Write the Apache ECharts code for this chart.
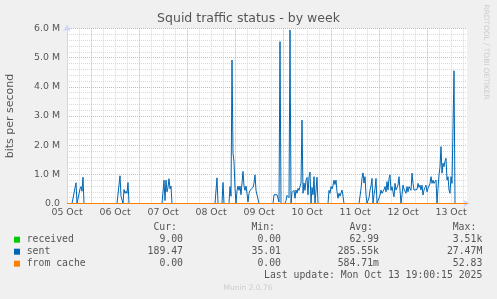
<!DOCTYPE html>
<html>
<head>
<meta charset="utf-8">
<script src="https://cdn.jsdelivr.net/npm/echarts@6/dist/echarts.min.js"></script>
<style>
html,body{margin:0;padding:0;background:#f0f0f0;}
#chart{width:497px;height:299px;}
</style>
</head>
<body>
<div id="chart"></div>
<script>
// ---- data (x in hours since 05 Oct 00:00, y in Mbit/s) ----
const dayLabels = ['05 Oct','06 Oct','07 Oct','08 Oct','09 Oct','10 Oct','11 Oct','12 Oct','13 Oct'];
const yTickLabels = ['0.0','1.0 M','2.0 M','3.0 M','4.0 M','5.0 M','6.0 M'];
const receivedData = [[12,0],[212,0]];
const fromCacheData = [[12,0],[212,0]];
const sentData = [
 [12,0],
 [14.5,0],[16.5,0.71],[17,0],[18.5,0.5],[19,0.58],[19.5,0.42],[20,0.9],[20.5,0],
 [37,0],[38.5,0.95],[39,0.25],[40,0],[40.5,0.48],[41,0.35],[41.5,0.42],[42,0.35],[42.5,0.72],[43,0],
 [59.5,0],[60.5,0.8],[61,0.1],[61.5,0.8],[62,0.4],[62.5,0.55],[63,0.85],[63.5,0.5],[64,0.6],[64.5,0],
 [86,0],[87,0.88],[87.5,0],[89.5,0],[90,0.72],[90.5,0],[93,0],[93.5,0.58],[94,0.25],[94.5,4.92],[95,1.72],[95.5,1.43],[96,0.52],[96.5,0],[97,0.44],[97.5,0.6],[98,0.45],[98.5,0.6],[99,0.3],[99.5,0.28],[100,1.1],[100.5,0.6],[101,0.45],[101.5,0.6],[102,0.35],[102.5,0.05],[103,0.35],[103.5,0.45],[104,0.4],[104.5,0.45],[105,0.55],[105.5,0.7],[106,0.98],[106.5,0.45],[107,0.45],[107.5,0.45],[108,0],
 [115,0],[115.5,0.3],[116,0.3],[116.5,0.3],[117,0.3],[117.5,0.25],[118,0.05],[118.5,5.55],[119,0],[121,0],[121.5,0.1],[122,0.28],[122.5,0.32],[123,0.2],[123.5,5.95],[124,0],[124.5,0.38],[125,0.42],[125.5,0.45],[126,0.18],[126.5,0.46],[127,0.35],[127.5,0.52],[128,0.45],[128.5,0.5],[129,0.7],[129.5,2.86],[130,0.35],[130.5,0.7],[131,0.45],[131.5,0.8],[132,0.89],[132.5,0.3],[133,0.92],[133.5,1.08],[134,0],[134.5,0.55],[135,0.3],[135.5,0.92],[136,0],[136.5,0],[137,0.9],[137.5,0],
 [142.5,0],[143,0.45],[143.5,0.35],[144,0.58],[144.5,0.5],[145,0.62],[145.5,0.8],[146,0.65],[146.5,0.8],[147,0.4],[147.5,0.18],[148,0.35],[148.5,0.25],[149,0.2],[149.5,0.46],[150,0.25],[150.5,0],
 [158,0],[159,0.5],[159.5,0.86],[160,1.05],[160.5,0.7],[161,0.92],[161.5,0.3],[162,0],[163,0.2],[163.5,0.46],[164,0.6],[164.5,0.86],[165,0],[165.5,0.3],[166,0.5],[166.5,0.86],[167,0],
 [168,0],[168.5,0.29],[169,0.46],[169.5,0.35],[170,0.3],[170.5,0.48],[171,0.58],[171.5,0.4],[172,0.75],[172.5,0.46],[173,0.86],[173.5,0.98],[174,0.45],[174.5,0.58],[175,0.4],[175.5,0.23],[176,0.69],[176.5,0.46],[177,0.5],[177.5,0.63],[178,0.92],[178.5,0.46],[179,0],
 [179.5,0.3],[180,0.63],[180.5,0.5],[181,0.46],[181.5,0.35],[182,0.58],[182.5,0.4],[183,0.58],[183.5,0.52],[184,0.45],[184.5,1.04],[185,0.69],[185.5,0.46],[186,0.5],[186.5,0.4],[187,0.48],[187.5,0.69],[188,0.55],[188.5,0.63],[189,0.46],[189.5,0.63],[190,0.29],[190.5,0.46],[191,0.55],[191.5,0.63],[192,0.4],[192.5,0.52],[193,0.6],[193.5,0.69],[194,0.92],[194.5,0.69],[195,0.8],[195.5,0.69],[196,0.75],[196.5,0.8],[197,0],
 [197.5,0.52],[198,0.98],[198.5,1.26],[199,1.95],[199.5,1.04],[200,1.38],[200.5,1.26],[201,1.45],[201.5,1.55],[202,0.8],[202.5,0.92],[203,0.46],[203.5,0.35],[204,0.92],[204.5,0.69],[205.5,4.55],[206,0],[211,0]
];
// legend / stats
const seriesNames = ['received','sent','from cache'];
const seriesColors = ['#00cc00','#0066b3','#ff8000'];
const statHeaders = ['Cur:','Min:','Avg:','Max:'];
const curVals = ['9.00','189.47','0.00'];
const minVals = ['0.00','35.01','0.00'];
const avgVals = ['62.99','285.55k','584.71m'];
const maxVals = ['3.51k','27.47M','52.83'];
const lastUpdate = 'Last update: Mon Oct 13 19:00:15 2025';

const chart = echarts.init(document.getElementById('chart'), null, {renderer:'canvas'});
const MONO = "'DejaVu Sans Mono', monospace";
const SANS = "'DejaVu Sans', sans-serif";
const GRAY = '#d8d8d8';
const RED = '#eaa8a8';
const FONTC = '#555555';

const graphics = [];
graphics.push({type:'text', x:486, y:52, rotation:-Math.PI/2,
  style:{text:'RRDTOOL / TOBI OETIKER', fill:'#cccccc', font:"7.4px "+SANS, textAlign:'center', textVerticalAlign:'middle'}});
const colRight = [183, 281, 379, 482.3];
const rowY = [239.7, 251.7, 263.7];
statHeaders.forEach((h,i)=>{
  graphics.push({type:'text', x:colRight[i]-6, y:227.7, style:{text:h, fill:FONTC, font:"9.8px "+MONO, textAlign:'right', textVerticalAlign:'middle'}});
});
const cols = [curVals, minVals, avgVals, maxVals];
seriesNames.forEach((n,r)=>{
  graphics.push({type:'rect', shape:{x:14, y:rowY[r]-3, width:6, height:6}, style:{fill:seriesColors[r]}});
  graphics.push({type:'text', x:26.7, y:rowY[r], style:{text:n, fill:FONTC, font:"9.8px "+MONO, textAlign:'left', textVerticalAlign:'middle'}});
  cols.forEach((c,i)=>{
    graphics.push({type:'text', x:colRight[i], y:rowY[r], style:{text:c[r], fill:FONTC, font:"9.8px "+MONO, textAlign:'right', textVerticalAlign:'middle'}});
  });
});
graphics.push({type:'text', x:482.3, y:275.7, style:{text:lastUpdate, fill:FONTC, font:"9.8px "+MONO, textAlign:'right', textVerticalAlign:'middle'}});
graphics.push({type:'text', x:248, y:288.3, style:{text:'Munin 2.0.76', fill:'#cccccc', font:"7.5px "+SANS, textAlign:'center', textVerticalAlign:'middle'}});

const option = {
  animation:false,
  backgroundColor:'#f0f0f0',
  title:{text:'Squid traffic status - by week', left:'center', top:12, padding:0,
    textStyle:{fontFamily:SANS, fontSize:12.5, fontWeight:'normal', color:FONTC}},
  grid:{left:67, top:28.5, width:400, height:175, show:true, backgroundColor:'#ffffff', borderWidth:0,
    outerBoundsMode:'none', containLabel:false},
  xAxis:{type:'value', min:12, max:212, interval:6,
    axisLine:{show:true, lineStyle:{color:'#cfd6f8', width:1}, symbol:['none','arrow'], symbolSize:[6,7], symbolOffset:[0,3]},
    axisTick:{show:false},
    axisLabel:{show:true, margin:4.5, fontFamily:SANS, fontSize:9.4, color:FONTC, showMaxLabel:false,
      formatter:function(v){const k=(v-12)/24; return (Number.isInteger(k) && k>=0 && k<dayLabels.length)? dayLabels[k] : '';}},
    splitLine:{show:true, showMinLine:false, showMaxLine:false, lineStyle:{color:[GRAY,RED,GRAY,GRAY], width:1, type:[1,1]}}
  },
  yAxis:{type:'value', min:0, max:6, interval:0.2,
    name:'bits per second', nameLocation:'middle', nameGap:51, nameRotate:90,
    nameTextStyle:{fontFamily:SANS, fontSize:11, color:FONTC},
    axisLine:{show:true, lineStyle:{color:'#cfd6f8', width:1}, symbol:['none','arrow'], symbolSize:[6,7], symbolOffset:[0,4]},
    axisTick:{show:false},
    axisLabel:{margin:7, fontFamily:SANS, fontSize:9.4, color:FONTC,
      formatter:function(v){const k=Math.round(v); return Math.abs(v-k)<1e-6 ? yTickLabels[k] : '';}},
    splitLine:{show:true, showMinLine:false, lineStyle:{color:[GRAY,GRAY,GRAY,GRAY,RED], width:1, type:[1,1]}}
  },
  series:[
    {name:seriesNames[0], type:'line', data:receivedData, showSymbol:false, lineStyle:{color:seriesColors[0], width:1}, itemStyle:{color:seriesColors[0]}},
    {name:seriesNames[1], type:'line', data:sentData, showSymbol:false, lineStyle:{color:seriesColors[1], width:1}, itemStyle:{color:seriesColors[1]}},
    {name:seriesNames[2], type:'line', data:fromCacheData, showSymbol:false, lineStyle:{color:seriesColors[2], width:1}, itemStyle:{color:seriesColors[2]}}
  ],
  graphic:graphics
};
chart.setOption(option);
</script>
</body>
</html>
